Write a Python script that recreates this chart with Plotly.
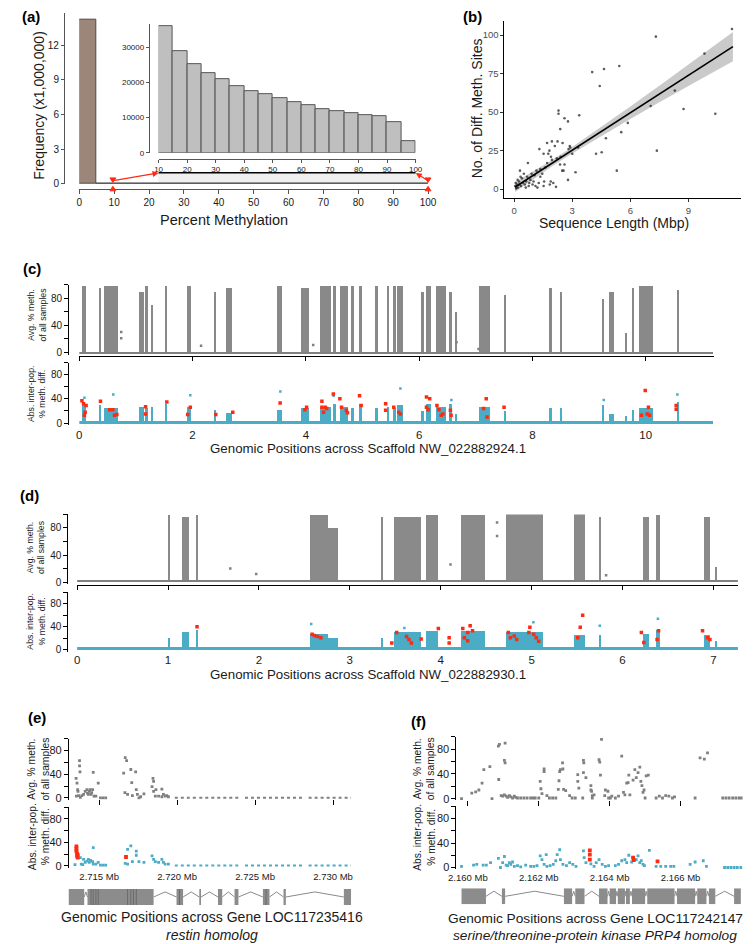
import plotly.graph_objects as go

W, H = 754, 944
FONT = "Liberation Sans, Arial, sans-serif"
GRAY_PT = "#808080"
TEAL = "#4bacc6"
RED = "#ff2a12"
TXT = "#1a1a1a"

# ---------------- (a) histogram data ----------------
main_bin_left = [0, 5]
main_count_millions = [14.2, 0.06]
inset_bin_left = [10, 15, 20, 25, 30, 35, 40, 45, 50, 55, 60, 65, 70, 75, 80, 85, 90, 95]
inset_counts = [35900, 28900, 25100, 22700, 20900, 19000, 17600, 16500, 15400,
                14500, 13600, 12500, 11900, 11300, 10800, 10300, 8800, 3300]
bin_width = 5
a_xticks = [0, 10, 20, 30, 40, 50, 60, 70, 80, 90, 100]
a_yticks = [0, 3, 6, 9, 12]
inset_xticks = [10, 20, 30, 40, 50, 60, 70, 80, 90, 100]
inset_yticks = [0, 10000, 20000, 30000]

# ---------------- (b) scatter data ----------------
seq_len_mbp = [11.25, 7.32, 4.03, 4.64, 5.43, 4.42, 9.83, 8.3, 7.05, 8.75, 10.39, 5.87, 5.53, 4.74,
               7.37, 4.23, 4.52, 5.3, 3.36, 2.29, 2.29, 2.6, 2.78, 2.38, 2.5, 2.24, 2.1, 1.82, 1.76,
               1.3, 1.52, 2.87, 2.81, 3.0, 3.17, 2.4, 2.37, 2.48, 2.78, 2.16, 1.89, 2.02, 1.84, 1.52,
               0.71, 0.3, 0.5, 0.67, 0.84, 1.0, 1.1, 1.27, 0.15, 0.2, 0.25, 0.35, 0.4, 0.45, 0.55,
               0.6, 0.1, 0.05, 0.08, 0.12, 0.18, 0.28, 0.33, 0.62, 0.75, 0.9, 1.05, 1.15, 1.35, 1.45,
               1.6, 1.7, 1.95, 1.9, 1.35, 1.55, 0.95, 0.78, 1.2, 2.6, 2.55, 1.7, 1.95, 2.2, 3.3, 2.9]
n_diff_sites = [104, 99, 76, 78, 80, 67, 88, 64, 54, 52, 49, 43, 37, 33,
                25, 23, 24, 12, 48, 51, 49, 46, 44, 39, 30, 31, 28, 25, 23,
                26, 23, 28, 26, 23, 11, 21, 16, 12, 6, 1.5, 5, 4, 3, 2,
                17, 12, 10, 8, 6, 5, 2, 4, 3, 1, 5, 2, 7, 4, 3,
                1, 0.5, 2, 4, 1, 6, 3, 8, 5, 2, 10, 9, 12, 13, 10,
                14, 17, 19, 21, 8, 5, 3, 4, 1, 16, 12, 30, 31, 20, 27, 27]
fit_x = [0.05, 11.3]
fit_y = [1.4, 92.5]
band_x = [0.05, 1, 2, 3, 4.5, 6, 7.5, 9, 10.2, 11.3]
band_lo = [-1.8, 6.7, 15.2, 23.2, 34.6, 45.6, 56.4, 67.0, 75.5, 83.0]
band_hi = [4.6, 11.5, 19.2, 27.4, 40.4, 53.6, 67.2, 80.8, 91.7, 102.0]
b_xticks = [0, 3, 6, 9]
b_yticks = [0, 25, 50, 75, 100]

# ---------------- (c) scaffold NW_022882924.1 ----------------
c_length = 11.2
c_start = [0.05, 0.37, 0.44, 1.06, 1.17, 1.285, 1.53, 1.90, 2.39, 2.60, 3.50, 3.92, 4.26, 4.49, 4.60,
           4.80, 4.95, 5.23, 5.44, 5.54, 5.62, 6.04, 6.12, 6.30, 6.53, 6.65, 7.07, 7.50, 8.30, 8.50,
           9.23, 9.36, 9.65, 9.775, 9.89, 10.56]
c_end = [0.12, 0.385, 0.68, 1.14, 1.216, 1.31, 1.562, 1.977, 2.427, 2.70, 3.592, 4.054, 4.457, 4.544,
         4.746, 4.861, 5.005, 5.277, 5.47, 5.59, 5.72, 6.10, 6.22, 6.48, 6.59, 6.68, 7.25, 7.54, 8.35,
         8.515, 9.27, 9.45, 9.66, 9.80, 10.14, 10.58]
c_avg_top = [98, 95, 98, 90, 98, 70, 98, 98, 90, 95, 98, 95, 98, 98, 98, 98, 98, 98, 98, 98, 98, 90,
             98, 98, 90, 60, 98, 85, 95, 90, 80, 90, 30, 95, 98, 92]
c_diff_top = [32, 30, 26, 28, 26, 28, 33, 28, 22, 18, 22, 25, 28, 33, 28, 25, 33, 25, 28, 25, 30, 20,
              32, 28, 33, 15, 28, 20, 25, 25, 30, 15, 12, 22, 25, 35]
c_avg_extra_x = [0.74, 0.74, 2.15, 4.13, 6.66, 7.05]
c_avg_extra_y = [30, 21, 10, 11, 15, 5]
c_diff_spike_x = [0.09, 0.6, 1.96, 3.55, 4.49, 5.67, 9.26, 6.57, 10.56]
c_diff_spike_y = [42, 47, 46, 52, 45, 57, 38, 38, 47]
c_sig_x = [0.046, 0.075, 0.104, 0.09, 0.12, 0.374, 0.536, 0.593, 0.622, 0.663, 1.17, 1.17, 1.545,
           1.914, 1.96, 2.41, 2.71, 3.546, 3.984, 4.013, 4.284, 4.284, 4.313, 4.342, 4.37, 4.486,
           4.601, 4.63, 4.717, 4.735, 4.948, 4.977, 5.409, 5.409, 5.553, 5.64, 5.67, 6.13, 6.187,
           6.13, 6.16, 6.315, 6.35, 6.39, 6.42, 6.553, 6.565, 7.185, 7.14, 7.2, 7.50, 9.993, 10.05,
           10.03, 10.07, 9.925, 10.54, 10.54]
c_sig_y = [37, 32, 18, 13, 29, 36, 22, 22, 13, 14, 27, 15, 35,
           14, 26, 14, 18, 33, 22, 26, 36, 26, 18, 26, 24, 48,
           40, 26, 21, 17, 45, 29, 32, 21, 26, 18, 15, 43, 40,
           26, 22, 29, 22, 13, 15, 21, 13, 40, 24, 10, 26, 54, 26,
           15, 13, 13, 29, 23]
c_xticks = [0, 2, 4, 6, 8, 10]

# ---------------- (d) scaffold NW_022882930.1 ----------------
d_length = 7.27
d_start = [0.996, 1.158, 1.308, 2.563, 2.762, 3.35, 3.489, 3.84, 4.227, 4.717, 5.471, 5.745, 6.224,
           6.37, 6.897, 7.022]
d_end = [1.028, 1.228, 1.335, 2.762, 2.87, 3.362, 3.785, 3.974, 4.485, 5.131, 5.589, 5.757, 6.289,
         6.41, 6.962, 7.034]
d_avg_top = [98, 95, 98, 98, 80, 95, 95, 98, 98, 100, 100, 95, 95, 98, 95, 22]
d_diff_top = [20, 30, 35, 28, 20, 20, 30, 33, 33, 30, 25, 25, 28, 35, 25, 15]
d_avg_extra_x = [1.685, 1.97, 4.108, 4.62, 4.62, 5.82]
d_avg_extra_y = [20, 12, 26, 68, 88, 10]
d_diff_spike_x = [2.575, 5.02, 5.75, 6.39, 3.6]
d_diff_spike_y = [45, 48, 42, 54, 38]
d_sig_x = [1.319, 2.585, 2.61, 2.644, 2.681, 3.462, 3.516, 3.624, 3.65, 3.677, 3.785, 3.974, 4.093,
           4.093, 4.243, 4.297, 4.324, 4.35, 4.26, 4.297, 4.744, 4.766, 4.809, 4.836, 4.981, 4.97,
           5.024, 5.051, 5.078, 5.535, 5.562, 5.508, 6.208, 6.235, 6.397, 6.381, 6.881, 6.935, 6.962]
d_sig_y = [40, 27, 25, 23, 21, 12, 30, 23, 18, 12, 19, 37, 21,
           12, 37, 30, 42, 33, 21, 16, 30, 21, 24, 18, 39, 30,
           27, 21, 15, 39, 60, 21, 30, 13, 33, 18, 33, 21, 18]
d_xticks = [0, 1, 2, 3, 4, 5, 6, 7]

# ---------------- (e) gene LOC117235416 ----------------
e_avg_x = [2.71352, 2.71358, 2.71362, 2.71364, 2.71374, 2.71374, 2.71377, 2.71354, 2.71368, 2.71379,
           2.71389, 2.71400, 2.71410, 2.71421, 2.71425, 2.71431, 2.71437, 2.71441, 2.71448, 2.71452,
           2.71458, 2.71462, 2.71467, 2.71479, 2.71494, 2.71508, 2.71525, 2.71542,
           2.71667, 2.71676, 2.71657, 2.71703, 2.71734, 2.71709, 2.71738, 2.71665, 2.71682, 2.71713,
           2.71745, 2.71755, 2.71787, 2.71766,
           2.71845, 2.71849, 2.71839, 2.71849, 2.71864, 2.71902, 2.71860, 2.71881, 2.71902, 2.71923,
           2.71944, 2.71912, 2.71933]
e_avg_y = [33, 25, 14, 11, 63, 54, 44, 3, 4, 1,
           4, 6, 11, 14, 8, 6, 11, 14, 6, 9,
           14, 43, 3, 3, 25, 0, 0, 0,
           68, 63, 42, 48, 44, 26, 14, 9, 6, 4,
           6, 0, 7, 2,
           33, 28, 19, 11, 14, 15, 3, 3, 2, 3,
           2, 6, 4]
e_flat_start = [2.71985, 2.72142, 2.72435, 2.72843]
e_flat_end = [2.72132, 2.72404, 2.72801, 2.73115]
e_diff_x = [2.71368, 2.71379, 2.71400, 2.71410, 2.71421, 2.71431, 2.71437, 2.71445, 2.71458, 2.71462,
            2.71462, 2.71479, 2.71494, 2.71508, 2.71525, 2.71542, 2.71682, 2.71703, 2.71738, 2.71738,
            2.71667, 2.71682, 2.71713, 2.71755, 2.71787, 2.71839, 2.71849, 2.71860, 2.71881, 2.71902,
            2.71912, 2.71923, 2.71944, 2.71345, 2.71385, 2.71395]
e_diff_y = [19, 14, 11, 6, 8, 11, 6, 9, 7, 31,
            3, 3, 6, 1, 1, 1, 28, 34, 25, 18,
            4, 3, 7, 7, 6, 17, 11, 7, 6, 11,
            6, 3, 3, 2, 3, 2]
e_sig_x = [2.71354, 2.71354, 2.71354, 2.71358, 2.71358, 2.71362, 2.71672]
e_sig_y = [33, 29, 25, 21, 17, 14, 15]
e_exon_start = [2.71305, 2.71425, 2.71996, 2.72142, 2.72262, 2.72368, 2.72550, 2.72682, 2.73069]
e_exon_end = [2.71404, 2.71849, 2.72038, 2.72153, 2.72289, 2.72393, 2.72592, 2.72697, 2.73115]
e_exon_edges = [2.71448, 2.71462, 2.71479, 2.71494, 2.71682, 2.71703, 2.71720, 2.71738, 2.72015, 2.72570]
e_ticks = [2.715, 2.720, 2.725, 2.730]
e_ticktext = ["2.715 Mb", "2.720 Mb", "2.725 Mb", "2.730 Mb"]

# ---------------- (f) gene LOC117242147 ----------------
f_avg_x = [2.15982, 2.16011, 2.16022, 2.16031, 2.16040, 2.16045, 2.16062, 2.16068, 2.16087, 2.16086,
           2.16089, 2.16105, 2.16103, 2.16105, 2.16094, 2.16098, 2.16103, 2.16108, 2.16112, 2.16117,
           2.16121, 2.16126, 2.16131, 2.16135, 2.16140, 2.16149, 2.16158, 2.16167, 2.16177, 2.16184,
           2.16190, 2.16200, 2.16204, 2.16215, 2.16215, 2.16206, 2.16209, 2.16223, 2.16230, 2.16239,
           2.16248, 2.16255, 2.16257, 2.16259, 2.16261, 2.16267, 2.16268, 2.16270, 2.16276, 2.16287,
           2.16294, 2.16303, 2.16310, 2.16310, 2.16313, 2.16324, 2.16326, 2.16327, 2.16326, 2.16333,
           2.16347, 2.16347, 2.16349, 2.16351, 2.16351, 2.16356, 2.16370, 2.16372, 2.16374, 2.16377,
           2.16386, 2.16388, 2.16395, 2.16397, 2.16402, 2.16406, 2.16416, 2.16425, 2.16434, 2.16439,
           2.16443, 2.16448, 2.16452, 2.16454, 2.16457, 2.16466, 2.16471, 2.16475, 2.16480, 2.16485,
           2.16488, 2.16491, 2.16494, 2.16497, 2.16500, 2.16503, 2.16509, 2.16531, 2.16540, 2.16549,
           2.16558, 2.16567, 2.16577, 2.16583, 2.16641, 2.16655, 2.16667, 2.16676, 2.16719, 2.16728,
           2.16737, 2.16747, 2.16756, 2.16765, 2.16772]
f_avg_y = [0, 9, 11, 14, 25, 47, 52, 0, 31, 85,
           88, 90, 62, 58, 5, 4, 6, 4, 2, 5,
           3, 1, 4, 2, 1, 1, 1, 1, 1, 1,
           1, 1, 28, 48, 44, 16, 8, 5, 1, 1,
           1, 15, 29, 44, 47, 58, 48, 15, 13, 5,
           1, 1, 28, 39, 17, 1, 62, 58, 42, 34,
           14, 21, 12, 5, 1, 6, 63, 59, 38, 96,
           5, 14, 12, 1, 1, 4, 1, 4, 69, 10,
           6, 25, 26, 38, 6, 30, 47, 34, 42, 51,
           28, 21, 10, 14, 1, 37, 38, 1, 4, 1,
           5, 4, 1, 3, 1, 66, 64, 74, 1, 1,
           1, 1, 1, 1, 1]
f_diff_x = [2.15982, 2.16016, 2.16025, 2.16043, 2.16052, 2.16064, 2.16086, 2.16092, 2.16098, 2.16103,
            2.16108, 2.16112, 2.16117, 2.16121, 2.16126, 2.16131, 2.16140, 2.16149, 2.16163, 2.16177,
            2.16186, 2.16195, 2.16204, 2.16209, 2.16215, 2.16221, 2.16223, 2.16232, 2.16241, 2.16248,
            2.16252, 2.16259, 2.16261, 2.16268, 2.16278, 2.16287, 2.16296, 2.16305, 2.16326, 2.16328,
            2.16333, 2.16347, 2.16356, 2.16362, 2.16370, 2.16379, 2.16388, 2.16397, 2.16416, 2.16425,
            2.16434, 2.16443, 2.16448, 2.16454, 2.16462, 2.16475, 2.16480, 2.16485, 2.16489, 2.16494,
            2.16498, 2.16512, 2.16531, 2.16544, 2.16558, 2.16572, 2.16581, 2.16627, 2.16641, 2.16664,
            2.16673, 2.16724, 2.16733, 2.16742, 2.16751, 2.16760, 2.16770]
f_diff_y = [2, 4, 5, 4, 4, 8, 15, 0, 8, 18,
            4, 3, 8, 5, 9, 2, 3, 1, 4, 2,
            2, 3, 19, 13, 5, 21, 2, 3, 5, 11,
            21, 29, 13, 5, 3, 8, 5, 2, 27, 16,
            8, 6, 2, 8, 13, 5, 2, 3, 3, 5,
            11, 13, 8, 20, 9, 13, 19, 8, 11, 5,
            3, 28, 2, 2, 2, 2, 2, 5, 9, 11,
            2, 0, 0, 0, 0, 0, 0]
f_sig_x = [2.16344, 2.16344, 2.16344, 2.16466, 2.16468, 2.16535]
f_sig_y = [28, 21, 13, 16, 12, 10]
f_exon_start = [2.15982, 2.16096, 2.16271, 2.16303, 2.16370, 2.16400, 2.16423, 2.16446, 2.16463,
                2.16506, 2.16590, 2.16647, 2.16680, 2.16751]
f_exon_end = [2.16051, 2.16105, 2.16294, 2.16329, 2.16394, 2.16418, 2.16443, 2.16457, 2.16500,
              2.16583, 2.16641, 2.16673, 2.16698, 2.16770]
f_ticks = [2.160, 2.162, 2.164, 2.166]
f_ticktext = ["2.160 Mb", "2.162 Mb", "2.164 Mb", "2.166 Mb"]
meth_yticks = [0, 20, 40, 60, 80, 100]
meth_yticktext = ["0", "", "40", "", "80", ""]


# ---------------- layout helpers ----------------
def xdom(p0, v0, p1, v1, r0, r1):
    s = (p1 - p0) / (v1 - v0)
    return [(p0 + (r0 - v0) * s) / W, (p0 + (r1 - v0) * s) / W]


def ydom(p0, v0, p1, v1, r0, r1):
    s = (p0 - p1) / (v1 - v0)
    bottom = p0 + (v0 - r0) * s
    top = p0 - (r1 - v0) * s
    return [1 - bottom / H, 1 - top / H]


def PX(x):
    return x / W


def PY(y):
    return 1 - y / H


def axis(**kw):
    base = dict(showgrid=False, zeroline=False, showline=False, ticks="", linecolor="black",
                tickcolor="black", linewidth=1, tickwidth=1,
                tickfont=dict(family=FONT, size=10, color=TXT), fixedrange=True)
    base.update(kw)
    return base


fig = go.Figure()

# ---------- (a) ----------
main_left = main_bin_left + inset_bin_left
main_vals = main_count_millions + [c / 1e6 for c in inset_counts]
fig.add_trace(go.Bar(x=[l + bin_width / 2 for l in main_left], y=main_vals, width=bin_width,
                     marker=dict(color=["#9c867a"] + ["#e8e8e8"] * (len(main_left) - 1),
                                 line=dict(color="#4a4a4a", width=1)),
                     xaxis="x", yaxis="y"))
fig.add_trace(go.Bar(x=[l + bin_width / 2 for l in inset_bin_left], y=inset_counts, width=bin_width,
                     marker=dict(color="#bfbfbf", line=dict(color="#555555", width=1)),
                     xaxis="x2", yaxis="y2"))

# ---------- (b) ----------
fig.add_trace(go.Scatter(x=band_x, y=band_lo, mode="lines", line=dict(width=0), xaxis="x3", yaxis="y3"))
fig.add_trace(go.Scatter(x=band_x, y=band_hi, mode="lines", line=dict(width=0), fill="tonexty",
                         fillcolor="rgba(150,150,150,0.5)", xaxis="x3", yaxis="y3"))
fig.add_trace(go.Scatter(x=seq_len_mbp, y=n_diff_sites, mode="markers",
                         marker=dict(size=2.6, color="rgba(40,40,40,0.75)"), xaxis="x3", yaxis="y3"))
fig.add_trace(go.Scatter(x=fit_x, y=fit_y, mode="lines", line=dict(color="black", width=1.6),
                         xaxis="x3", yaxis="y3"))


# ---------- (c) & (d) ----------
def scaffold_traces(starts, ends, avg_top, diff_top, length, ax_up, ay_up, ax_lo, ay_lo,
                    avg_ex_x, avg_ex_y, spike_x, spike_y, sig_x, sig_y):
    centers = [(s + e) / 2 for s, e in zip(starts, ends)]
    widths = [max(e - s, 0.012) for s, e in zip(starts, ends)]
    fig.add_trace(go.Bar(x=[length / 2], y=[3], base=[-1], width=[length],
                         marker=dict(color=GRAY_PT, line=dict(width=0)), xaxis=ax_up, yaxis=ay_up))
    fig.add_trace(go.Bar(x=centers, y=avg_top, base=0, width=widths,
                         marker=dict(color=GRAY_PT, line=dict(width=0)), opacity=0.92,
                         xaxis=ax_up, yaxis=ay_up))
    fig.add_trace(go.Scatter(x=avg_ex_x, y=avg_ex_y, mode="markers",
                             marker=dict(size=2.5, color=GRAY_PT, symbol="square"),
                             xaxis=ax_up, yaxis=ay_up))
    fig.add_trace(go.Bar(x=[length / 2], y=[5], base=[-1], width=[length],
                         marker=dict(color=TEAL, line=dict(width=0)), xaxis=ax_lo, yaxis=ay_lo))
    fig.add_trace(go.Bar(x=centers, y=diff_top, base=0, width=widths,
                         marker=dict(color=TEAL, line=dict(width=0)), xaxis=ax_lo, yaxis=ay_lo))
    fig.add_trace(go.Scatter(x=spike_x, y=spike_y, mode="markers",
                             marker=dict(size=2.5, color=TEAL, symbol="square"),
                             xaxis=ax_lo, yaxis=ay_lo))
    fig.add_trace(go.Scatter(x=sig_x, y=sig_y, mode="markers",
                             marker=dict(size=3.5, color=RED, symbol="square"),
                             xaxis=ax_lo, yaxis=ay_lo))


scaffold_traces(c_start, c_end, c_avg_top, c_diff_top, c_length, "x4", "y4", "x5", "y5",
                c_avg_extra_x, c_avg_extra_y, c_diff_spike_x, c_diff_spike_y, c_sig_x, c_sig_y)
scaffold_traces(d_start, d_end, d_avg_top, d_diff_top, d_length, "x6", "y6", "x7", "y7",
                d_avg_extra_x, d_avg_extra_y, d_diff_spike_x, d_diff_spike_y, d_sig_x, d_sig_y)


# ---------- (e) & (f) ----------
def gene_traces(avg_x, avg_y, diff_x, diff_y, sig_x, sig_y, ax_up, ay_up, ax_lo, ay_lo,
                exon_s, exon_e, ax_g, ay_g, flat_s=None, flat_e=None, edges=None):
    if flat_s:
        fx, fy = [], []
        for s, e in zip(flat_s, flat_e):
            fx += [s, e, None]
            fy += [0.5, 0.5, None]
        fig.add_trace(go.Scatter(x=fx, y=fy, mode="lines", line=dict(color=GRAY_PT, width=2, dash="dot"),
                                 xaxis=ax_up, yaxis=ay_up))
        fig.add_trace(go.Scatter(x=fx, y=fy, mode="lines", line=dict(color=TEAL, width=2, dash="dot"),
                                 xaxis=ax_lo, yaxis=ay_lo))
    fig.add_trace(go.Scatter(x=avg_x, y=avg_y, mode="markers",
                             marker=dict(size=2.8, color=GRAY_PT, symbol="square"),
                             xaxis=ax_up, yaxis=ay_up))
    fig.add_trace(go.Scatter(x=diff_x, y=diff_y, mode="markers",
                             marker=dict(size=2.8, color=TEAL, symbol="square"),
                             xaxis=ax_lo, yaxis=ay_lo))
    fig.add_trace(go.Scatter(x=sig_x, y=sig_y, mode="markers",
                             marker=dict(size=3.8, color=RED, symbol="square"),
                             xaxis=ax_lo, yaxis=ay_lo))
    # introns as chevrons
    ix, iy = [], []
    for i in range(len(exon_s) - 1):
        a, b = exon_e[i], exon_s[i + 1]
        if b - a > 0:
            ix += [a, (a + b) / 2, b, None]
            iy += [0.5, 0.82, 0.5, None]
    fig.add_trace(go.Scatter(x=ix, y=iy, mode="lines", line=dict(color="#8a8a8a", width=1),
                             xaxis=ax_g, yaxis=ay_g))
    for s, e in zip(exon_s, exon_e):
        fig.add_shape(type="rect", xref=ax_g, yref=ay_g, x0=s, x1=e, y0=0, y1=1,
                      fillcolor="#8c8c8c", line=dict(width=0), layer="above")
    if edges:
        for x in edges:
            fig.add_shape(type="line", xref=ax_g, yref=ay_g, x0=x, x1=x, y0=0, y1=1,
                          line=dict(color="#6a6a6a", width=1), layer="above")


gene_traces(e_avg_x, e_avg_y, e_diff_x, e_diff_y, e_sig_x, e_sig_y, "x8", "y8", "x9", "y9",
            e_exon_start, e_exon_end, "x10", "y10", e_flat_start, e_flat_end, e_exon_edges)
gene_traces(f_avg_x, f_avg_y, f_diff_x, f_diff_y, f_sig_x, f_sig_y, "x11", "y11", "x12", "y12",
            f_exon_start, f_exon_end, "x13", "y13")

# ---------------- axes ----------------
lay = {}
# (a) main
lay["xaxis"] = axis(domain=xdom(65.7, 0, 422, 100, 0, 100), range=[0, 100], anchor="free",
                    position=PY(181.7), showline=True, linecolor="#555", ticks="outside", ticklen=4,
                    tickcolor="#555", tickvals=a_xticks)
lay["yaxis"] = axis(domain=ydom(177, 0, 37.3, 12, 0, 14.8), range=[0, 14.8], anchor="free",
                    position=PX(50), showline=True, linecolor="#555", ticks="outside", ticklen=3,
                    tickcolor="#555", tickvals=a_yticks)
# (a) inset
lay["xaxis2"] = axis(domain=xdom(146.7, 10, 409.3, 100, 10, 100), range=[10, 100], anchor="free",
                     position=PY(151.7), showline=True, linecolor="#555", ticks="outside", ticklen=3,
                     tickcolor="#555", tickvals=inset_xticks,
                     tickfont=dict(family=FONT, size=8, color=TXT))
lay["yaxis2"] = axis(domain=ydom(145.7, 0, 39.3, 30000, 0, 36500), range=[0, 36500], anchor="free",
                     position=PX(136.7), showline=True, linecolor="#555", ticks="outside", ticklen=3,
                     tickcolor="#555", tickvals=inset_yticks, tickformat="d",
                     tickfont=dict(family=FONT, size=8, color=TXT))
# (b)
lay["xaxis3"] = axis(domain=xdom(510, 0, 688, 9, -0.5, 11.7), range=[-0.5, 11.7], anchor="y3",
                     showline=True, ticks="outside", ticklen=3, tickcolor="#333", tickvals=b_xticks,
                     tickfont=dict(family=FONT, size=9.5, color="#4d4d4d"))
lay["yaxis3"] = axis(domain=ydom(182.3, 0, 27.3, 100, -6, 109), range=[-6, 109], anchor="x3",
                     showline=True, ticks="outside", ticklen=3, tickcolor="#333", tickvals=b_yticks,
                     tickfont=dict(family=FONT, size=9.5, color="#4d4d4d"))


def scaffold_axes(nu, nl, xd, xr, xline_y, lab_y, y_axis_x, yd_up, yd_lo, ticks):
    lay["xaxis%d" % nu] = axis(domain=xd, range=xr, anchor="free", position=PY(xline_y), showline=True,
                               ticks="outside", ticklen=4, tickvals=ticks, showticklabels=False)
    lay["yaxis%d" % nu] = axis(domain=yd_up, range=[-3, 100], anchor="free", position=PX(y_axis_x),
                               showline=True, ticks="outside", ticklen=4, tickvals=meth_yticks,
                               ticktext=meth_yticktext)
    lay["xaxis%d" % nl] = axis(domain=xd, range=xr, anchor="free", position=PY(lab_y), tickvals=ticks,
                               tickfont=dict(family=FONT, size=11.5, color=TXT))
    lay["yaxis%d" % nl] = axis(domain=yd_lo, range=[-3, 100], anchor="free", position=PX(y_axis_x),
                               showline=True, ticks="outside", ticklen=4, tickvals=meth_yticks,
                               ticktext=meth_yticktext)


scaffold_axes(4, 5, xdom(65.7, 0, 644.3, 10, 0, c_length), [0, c_length], 350, 421, 54.3,
              ydom(346.7, 0, 292, 80, -3, 100), ydom(417.7, 0, 369, 80, -3, 100), c_xticks)
scaffold_axes(6, 7, xdom(63.5, 0, 713.5, 7, 0, d_length), [0, d_length], 581, 648, 53.5,
              ydom(577.7, 0, 523.3, 80, -3, 100), ydom(646, 0, 599.5, 80, -3, 100), d_xticks)


def gene_axes(nu, nl, ng, xd, xr, up_tick_y, lab_y, y_axis_x, yd_up, yd_lo, gene_top, gene_bot,
              ticks, ticktext):
    lay["xaxis%d" % nu] = axis(domain=xd, range=xr, anchor="free", position=PY(up_tick_y),
                               ticks="outside", ticklen=5, tickvals=ticks, showticklabels=False)
    lay["yaxis%d" % nu] = axis(domain=yd_up, range=[-3, 100], anchor="free", position=PX(y_axis_x),
                               showline=True, ticks="outside", ticklen=4, tickvals=meth_yticks,
                               ticktext=meth_yticktext, tickfont=dict(family=FONT, size=11, color=TXT))
    lay["xaxis%d" % nl] = axis(domain=xd, range=xr, anchor="free", position=PY(lab_y), tickvals=ticks,
                               ticktext=ticktext, tickfont=dict(family=FONT, size=9.5, color=TXT))
    lay["yaxis%d" % nl] = axis(domain=yd_lo, range=[-3, 100], anchor="free", position=PX(y_axis_x),
                               showline=True, ticks="outside", ticklen=4, tickvals=meth_yticks,
                               ticktext=meth_yticktext, tickfont=dict(family=FONT, size=11, color=TXT))
    lay["xaxis%d" % ng] = axis(domain=xd, range=xr, anchor="y%d" % ng, visible=False)
    lay["yaxis%d" % ng] = axis(domain=[PY(gene_bot), PY(gene_top)], range=[0, 1], anchor="x%d" % ng,
                               visible=False)


gene_axes(8, 9, 10, xdom(86, 2.715, 325, 2.730, 2.71299, 2.7312), [2.71299, 2.7312], 796, 867, 54,
          ydom(795, 0, 747.3, 80, -3, 100), ydom(863.3, 0, 816, 80, -3, 100), 886.7, 902.7,
          e_ticks, e_ticktext)
gene_axes(11, 12, 13, xdom(462.7, 2.160, 680, 2.166, 2.15965, 2.16775), [2.15965, 2.16775], 797, 868, 450,
          ydom(795.7, 0, 746, 80, -3, 100), ydom(865, 0, 815.7, 80, -3, 100), 886, 902,
          f_ticks, f_ticktext)

# ---------------- annotations ----------------
ann = []


def text(x, y, s, size, angle=0, bold=False, italic=False, color=TXT):
    if bold:
        s = "<b>%s</b>" % s
    if italic:
        s = "<i>%s</i>" % s
    ann.append(dict(x=PX(x), y=PY(y), xref="paper", yref="paper", text=s, showarrow=False,
                    textangle=angle, xanchor="center", yanchor="middle",
                    font=dict(family=FONT, size=size, color=color)))


for lbl, x, y in [("(a)", 16, 9), ("(b)", 467, 9), ("(c)", 17, 262), ("(d)", 15, 491),
                  ("(e)", 22, 714), ("(f)", 412, 718)]:
    text(x, y, lbl, 15, bold=True, color="black")

text(25, 98, "Frequency (x1,000,000)", 14, angle=-90)
text(214, 213, "Percent Methylation", 14.5)
text(472, 101, "No. of Diff. Meth. Sites", 14, angle=-90)
text(611.7, 216, "Sequence Length (Mbp)", 14)
text(361, 443, "Genomic Positions across Scaffold NW_022882924.1", 13.3)
text(361, 671, "Genomic Positions across Scaffold NW_022882930.1", 13.3)
text(201.7, 915, "Genomic Positions across Gene LOC117235416", 14)
text(201.7, 933, "restin homolog", 14, italic=True)
text(593, 916, "Genomic Positions across Gene LOC117242147", 13.7)
text(593, 933, "serine/threonine-protein kinase PRP4 homolog", 13.7, italic=True)

UP_T = "Avg. % meth.<br>of all samples"
LO_T = "Abs. inter-pop.<br>% meth. diff."
text(22, 309, UP_T, 8.7, angle=-90)
text(22, 388, LO_T, 8.7, angle=-90)
text(21, 543, UP_T, 8.7, angle=-90)
text(21, 617, LO_T, 8.7, angle=-90)
text(24, 766, UP_T, 10.3, angle=-90)
text(24, 834, LO_T, 10.3, angle=-90)
text(418, 766, UP_T, 10.3, angle=-90)
text(418, 835, LO_T, 10.3, angle=-90)

# red arrows in (a)
for hx, hy, tx, ty in [(146.7, 166, 100, 174), (409.5, 166, 422, 174)]:
    ann.append(dict(x=PX(hx), y=PY(hy), xref="paper", yref="paper", text="", showarrow=True,
                    axref="pixel", ayref="pixel", ax=tx - hx, ay=ty - hy, arrowcolor=RED,
                    arrowhead=2, arrowsize=1, arrowwidth=1.2))

# ---------------- shapes for zoom region in (a) ----------------
shapes = []


def ppath(points):
    d = "M " + " L ".join("%f,%f" % (PX(x), PY(y)) for x, y in points) + " Z"
    return d


shapes.append(dict(type="path", xref="paper", yref="paper", layer="below",
                   path=ppath([(146.7, 165.7), (409.3, 165.7), (422, 177), (146.7, 177)]),
                   fillcolor="#efefef", line=dict(width=0)))
shapes.append(dict(type="line", xref="paper", yref="paper", x0=PX(146.7), x1=PX(409.3),
                   y0=PY(165.7), y1=PY(165.7), line=dict(color="black", width=1.5)))
for cx in (100.0, 422.0):
    shapes.append(dict(type="path", xref="paper", yref="paper",
                       path=ppath([(cx - 3, 171), (cx + 3, 171), (cx, 175.5)]),
                       fillcolor=RED, line=dict(color=RED, width=1)))
    shapes.append(dict(type="path", xref="paper", yref="paper",
                       path=ppath([(cx - 3, 184), (cx + 3, 184), (cx, 179.5)]),
                       fillcolor=RED, line=dict(color=RED, width=1)))

fig.update_layout(
    width=W, height=H, autosize=False,
    margin=dict(l=0, r=0, t=0, b=0),
    paper_bgcolor="white", plot_bgcolor="white",
    showlegend=False, barmode="overlay", bargap=0,
    font=dict(family=FONT, color=TXT),
    annotations=ann,
    **lay,
)
for s in shapes:
    fig.add_shape(**s)

fig.write_html("out.html")
